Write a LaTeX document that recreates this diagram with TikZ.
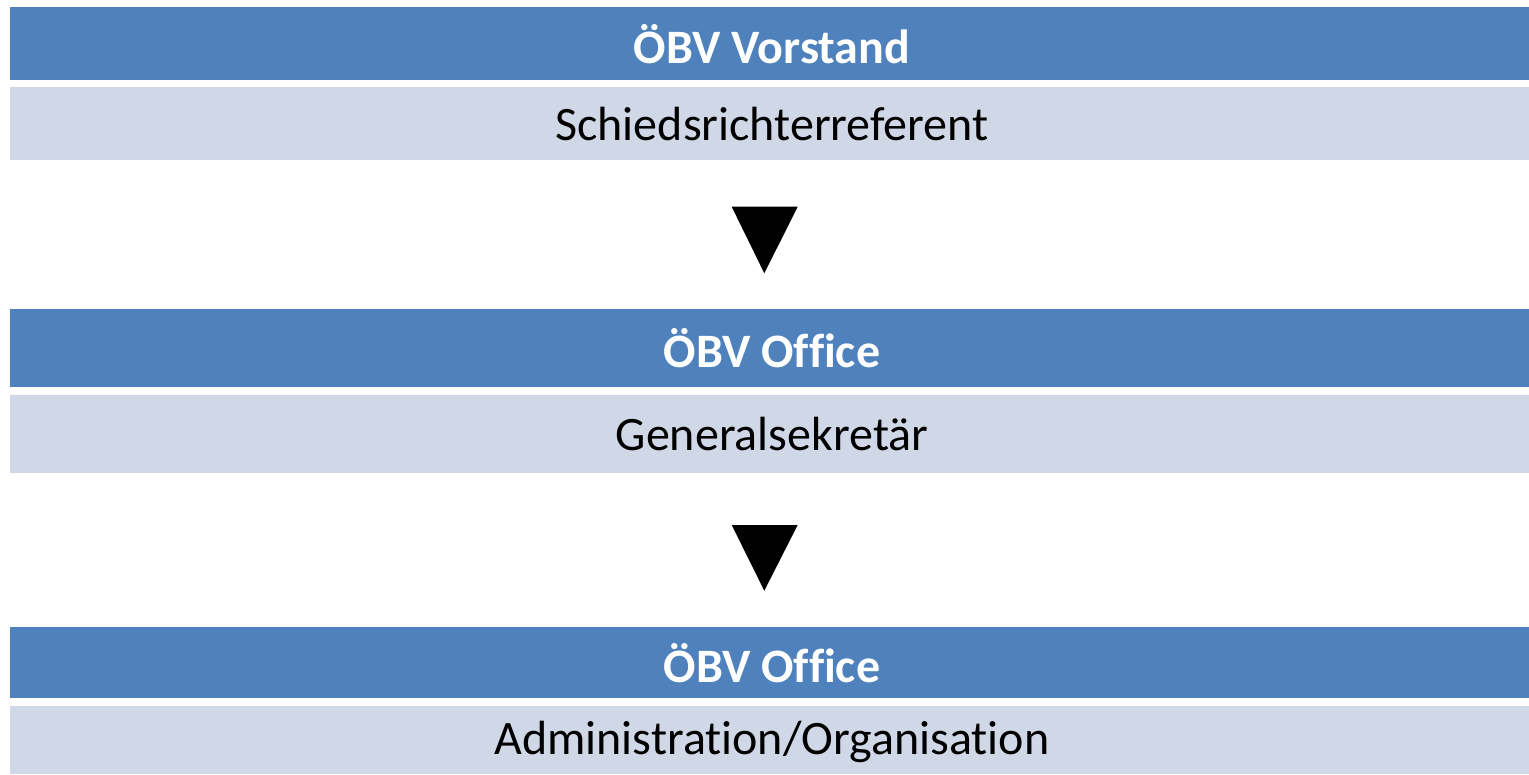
\documentclass[tikz,border=0pt]{standalone}
\usepackage{fontspec}
\setmainfont[Ligatures=NoCommon]{Carlito}
\definecolor{darkbar}{HTML}{4F81BD}
\definecolor{lightbar}{HTML}{D0D8E8}
\begin{document}
\begin{tikzpicture}[x=1pt,y=-1pt,
  headtext/.style={text=white, font=\fontsize{48}{56}\selectfont\bfseries},
  subtext/.style={text=black, font=\fontsize{48}{56}\selectfont},
  tri/.style={fill=black, draw=none}]
\useasboundingbox (0,0) rectangle (1529,774);
% bars
\fill[darkbar] (10,7) rectangle (1529,80);
\node[headtext] (h1) at (772,44) {ÖBV Vorstand};
\fill[lightbar] (10,87) rectangle (1529,160);
\node[subtext] (s1) at (772,124) {Schiedsrichterreferent};
\fill[darkbar] (10,308.5) rectangle (1529,387);
\node[headtext] (h2) at (772,348) {ÖBV Office};
\fill[lightbar] (10,395) rectangle (1529,472.5);
\node[subtext] (s2) at (772,434) {Generalsekretär};
\fill[darkbar] (10,626.5) rectangle (1529,698);
\node[headtext] (h3) at (772,663) {ÖBV Office};
\fill[lightbar] (10,706) rectangle (1529,774);
\node[subtext] (s3) at (772,742) {Administration/Organisation};
% triangles
\fill[tri] (731.7,206.7) -- (797.7,206.7) -- (764.3,273.3) -- cycle;
\fill[tri] (731.7,525) -- (797.7,525) -- (764.3,590.7) -- cycle;
\end{tikzpicture}
\end{document}
